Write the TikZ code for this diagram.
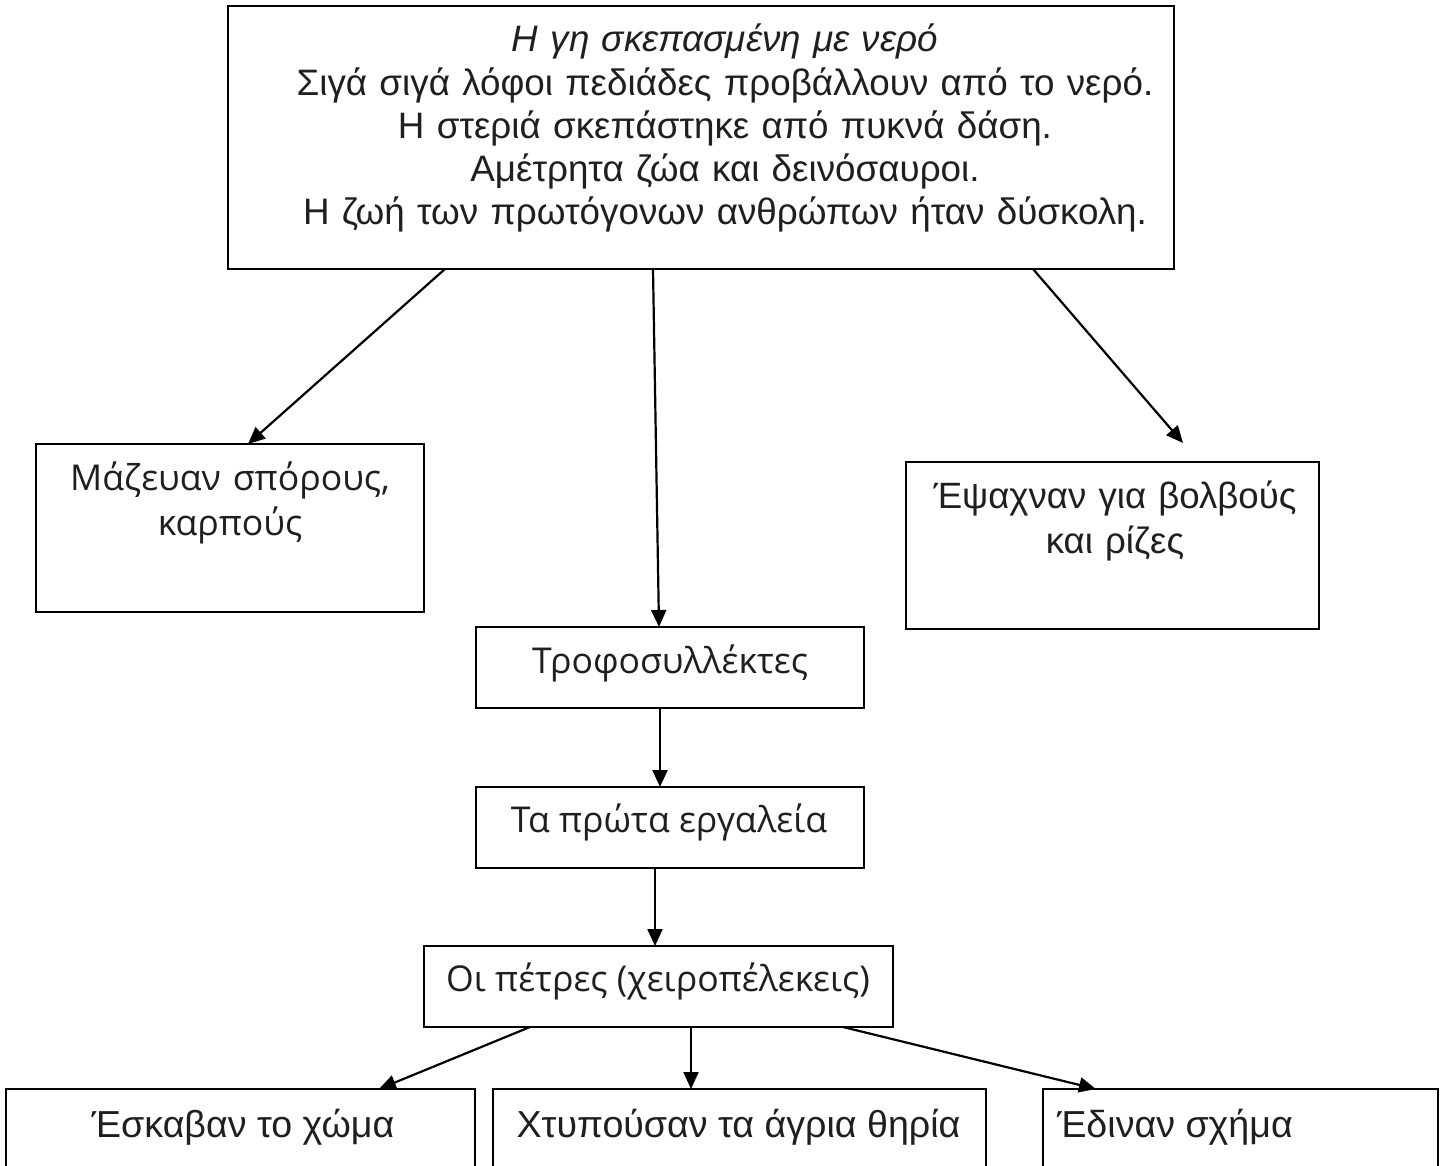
\documentclass[tikz,border=0pt]{standalone}
\usepackage{fontspec}
\setmainfont{Liberation Sans}
\newfontfamily\osans{Open Sans}
\usetikzlibrary{arrows.meta}
\begin{document}
\begin{tikzpicture}[x=0.5pt,y=-0.5pt,
  box/.style={draw, line width=0.9pt, rectangle, inner sep=0pt, outer sep=0pt},
  lbl/.style={inner sep=0pt, outer sep=0pt, anchor=base, text=black!88,
              font=\fontsize{18.4}{21.6}\selectfont},
  olbl/.style={lbl, font=\osans\fontsize{17.8}{22.5}\selectfont},
  arr/.style={line width=1.1pt, -{Triangle[length=8.5pt,width=7.5pt]}}]
\useasboundingbox (0,0) rectangle (1445,1166);
\clip (0,0) rectangle (1445,1166);
\fill[white] (0,0) rectangle (1445,1166);
% boxes
\node[box, minimum width=473pt, minimum height=131.5pt] (top) at (701,137.5) {};
\node[box, minimum width=194pt, minimum height=84pt] (mz) at (230,528) {};
\node[box, minimum width=206.5pt, minimum height=83.5pt] (ep) at (1112.5,545.5) {};
\node[box, minimum width=194pt, minimum height=40.5pt] (tr) at (670,667.5) {};
\node[box, minimum width=194pt, minimum height=40.5pt] (ta) at (670,827.5) {};
\node[box, minimum width=234.5pt, minimum height=40.5pt] (op) at (658.5,986.5) {};
\node[box, minimum width=234.5pt, minimum height=60pt] (b1) at (240.5,1149) {};
\node[box, minimum width=246.5pt, minimum height=60pt] (b2) at (739.5,1149) {};
\node[box, minimum width=197.5pt, minimum height=60pt] (b3) at (1240.5,1149) {};
% texts
\node[lbl, text width=470pt, align=center] (ttop) at (725,52)
  {\textit{Η γη σκεπασμένη με νερό}\\
   Σιγά σιγά λόφοι πεδιάδες προβάλλουν από το νερό.\\
   Η στεριά σκεπάστηκε από πυκνά δάση.\\
   Αμέτρητα ζώα και δεινόσαυροι.\\
   Η ζωή των πρωτόγονων ανθρώπων ήταν δύσκολη.};
\node[olbl, text width=190pt, align=center] (tmz) at (230,490)
  {Μάζευαν σπόρους,\\καρπούς};
\node[lbl, text width=205pt, align=center, font=\fontsize{18.3}{22.5}\selectfont] (tep) at (1115,508)
  {Έψαχναν για βολβούς\\και ρίζες};
\node[olbl] (ttr) at (670,673) {Τροφοσυλλέκτες};
\node[olbl] (tta) at (669,832) {Τα πρώτα εργαλεία};
\node[olbl] (top2) at (658,991) {Οι πέτρες (χειροπέλεκεις)};
\node[lbl, font=\fontsize{18.8}{21.6}\selectfont] (tb1) at (243,1137) {Έσκαβαν το χώμα};
\node[lbl, font=\fontsize{18.8}{21.6}\selectfont] (tb2) at (738.5,1137) {Χτυπούσαν τα άγρια θηρία};
\node[lbl, anchor=base west, font=\fontsize{18.8}{21.6}\selectfont] (tb3) at (1057,1137) {Έδιναν σχήμα};
% connectors
\coordinate (e3) at (1183,443);
\draw[arr] ([xshift=-128pt]top.south) -- ([xshift=9pt]mz.north);
\draw[arr] ([xshift=-24pt]top.south) -- ([xshift=-5.5pt]tr.north);
\draw[arr] ([xshift=166pt]top.south) -- (e3);
\draw[arr] ([xshift=-5pt]tr.south) -- ([xshift=-5pt]ta.north);
\draw[arr] ([xshift=-7.5pt]ta.south) -- ([xshift=-1.75pt]op.north);
\draw[arr] ([xshift=-64.25pt]op.south) -- ([xshift=69.25pt]b1.north);
\draw[arr] ([xshift=16.25pt]op.south) -- ([xshift=-24.25pt]b2.north);
\draw[arr] ([xshift=92.25pt]op.south) -- ([xshift=-72.25pt]b3.north);
\end{tikzpicture}
\end{document}
